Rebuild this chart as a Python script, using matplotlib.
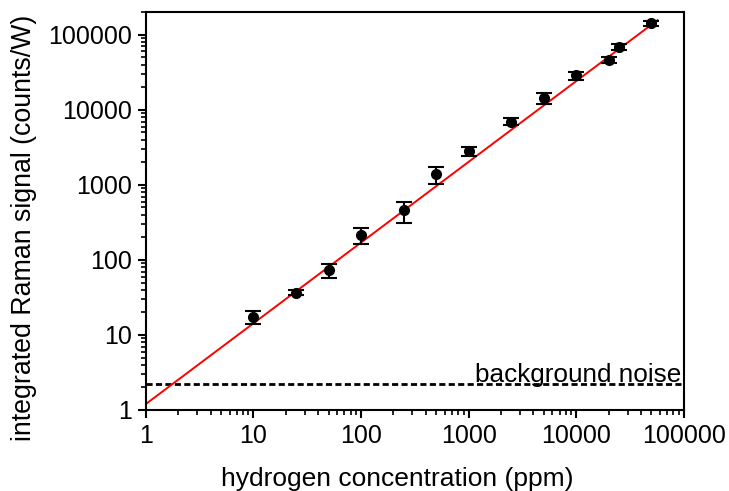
import numpy as np
import matplotlib
matplotlib.use("Agg")
import matplotlib.pyplot as plt
from matplotlib.ticker import LogLocator, FuncFormatter, NullFormatter

plt.rcParams['font.family'] = ['Liberation Sans', 'DejaVu Sans']

# concentracion (ppm) y senal Raman integrada (counts/W)
concentracion = [10, 25, 50, 100, 250, 500, 1000, 2500, 5000, 10000, 20000, 25000, 50000]
senal = [17.4, 36.6, 72.8, 215, 464, 1400, 2840, 6980, 14600, 29000, 46400, 69800, 143000]
err_sup = [21.1, 39.8, 89, 267, 599, 1750, 3240, 7740, 16700, 32400, 51400, 76600, 153800]
err_inf = [13.9, 34.4, 58, 162, 314, 1030, 2460, 6310, 12000, 25100, 41900, 63100, 131800]

# ajuste lineal en log-log: y = a * x^b
ajuste_a = 1.2
ajuste_b = 1.076
ajuste_x = [1, 57000]

ruido_fondo = 2.2

fig = plt.figure(figsize=(7.29, 4.91), dpi=100)
ax = fig.add_axes([0.2, 0.165, 0.738, 0.811])

senal = np.array(senal)
yerr = [senal - np.array(err_inf), np.array(err_sup) - senal]

xs = np.logspace(np.log10(ajuste_x[0]), np.log10(ajuste_x[1]), 50)
ax.plot(xs, ajuste_a * xs ** ajuste_b, color='red', lw=1.4, zorder=2)

ax.errorbar(concentracion, senal, yerr=yerr, fmt='o', color='black', ms=7,
            elinewidth=1.5, capsize=6, capthick=1.5, zorder=3)

ax.axhline(ruido_fondo, color='black', lw=2, ls=(0, (2.2, 1.2)), zorder=1)
ax.text(0.995, ruido_fondo * 1.08, 'background noise', transform=ax.get_yaxis_transform(),
        ha='right', va='baseline', fontsize=18.8)

ax.set_xscale('log')
ax.set_yscale('log')
ax.set_xlim(1, 1e5)
ax.set_ylim(1, 2.03e5)

ax.xaxis.set_major_formatter(FuncFormatter(lambda v, p: f'{int(round(v))}'))
ax.yaxis.set_major_formatter(FuncFormatter(lambda v, p: f'{int(round(v))}'))
ax.xaxis.set_minor_locator(LogLocator(base=10, subs=np.arange(2, 10)))
ax.yaxis.set_minor_locator(LogLocator(base=10, subs=np.arange(2, 10)))
ax.xaxis.set_minor_formatter(NullFormatter())
ax.yaxis.set_minor_formatter(NullFormatter())

ax.tick_params(which='major', direction='out', length=6, width=1.5, labelsize=18, pad=4)
ax.tick_params(which='minor', direction='out', length=3.5, width=1.2)
for s in ax.spines.values():
    s.set_linewidth(1.5)

ax.set_xlabel('hydrogen concentration (ppm)', fontsize=19)
ax.set_ylabel('integrated Raman signal (counts/W)', fontsize=19.3)
ax.xaxis.set_label_coords(0.467, -0.142)
ax.yaxis.set_label_coords(-0.203, 0.457)

fig.savefig('out.png', dpi=100)
